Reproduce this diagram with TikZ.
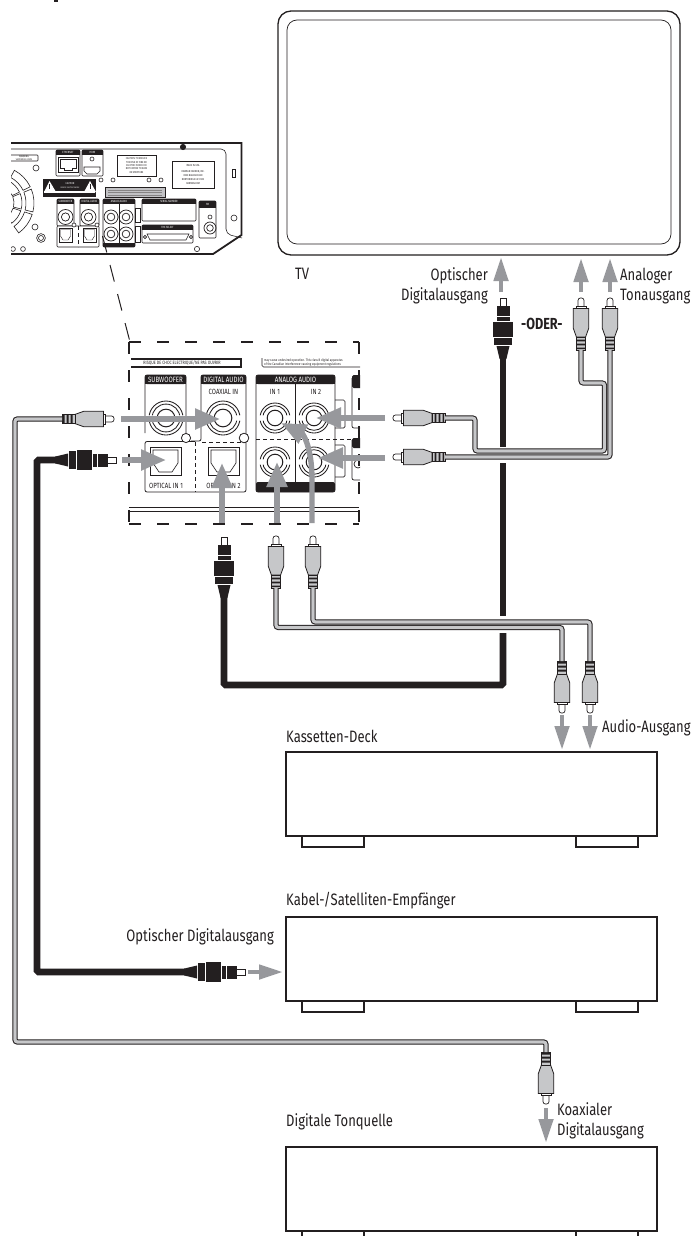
\documentclass[tikz,border=0pt]{standalone}
\usepackage{fontspec}
\usetikzlibrary{arrows.meta}
\newfontfamily\labf[FakeStretch=0.79]{Fira Sans}
\newfontfamily\smallf[FakeStretch=0.8]{Fira Sans}
\definecolor{ink}{HTML}{231F20}
\definecolor{sig}{HTML}{97989C}
\definecolor{plugfill}{HTML}{C6C7C9}
\tikzset{
  lab/.style={font=\labf\fontsize{16.5}{18}\selectfont,text=ink,inner sep=0pt,anchor=base west},
  labr/.style={lab,anchor=base east},
  devbox/.style={draw=ink,line width=1.3pt,fill=white},
  tvbox/.style={draw=ink,fill=white},
  graycable/.style={draw=ink,line width=1.05pt,double=plugfill,double distance=3.2pt,rounded corners=2.5pt},
  blackcable/.style={draw=ink,line width=6.6pt,rounded corners=1.5pt},
  sigbig/.style={draw=sig,line width=4.6pt,-{Triangle[length=24pt,width=14pt]}},
  sigpanel/.style={draw=sig,line width=5.4pt,-{Triangle[length=25pt,width=20pt]}},
  hdrtxt/.style={font=\smallf\fontsize{7.7}{8}\selectfont,text=white,inner sep=0pt},
  pantxt/.style={font=\smallf\fontsize{7.5}{8}\selectfont,text=ink,inner sep=0pt},
  rhdr/.style={font=\smallf\fontsize{3}{3}\selectfont,text=white,inner sep=0pt},
  rtxt/.style={font=\smallf\fontsize{2.8}{3.4}\selectfont,text=ink,inner sep=0pt,align=center},
  pline/.style={draw=ink,line width=.8pt},
  rline/.style={draw=ink,line width=.6pt},
  leader/.style={draw=ink,line width=1pt,dash pattern=on 17pt off 13pt},
  pdash/.style={draw=ink,line width=1.1pt,dash pattern=on 12pt off 16pt},
  idash/.style={draw=ink,line width=.7pt,dash pattern=on 4pt off 3pt},
}
% name, x, y of tip, rotation (0 = tip up)
\newcommand{\rcaplug}[4]{\begin{scope}[shift={(#2,#3)},rotate=#4]
  \draw[fill=white,line width=.7pt,draw=ink,rounded corners=2.4pt] (-3,13)--(-3,0)--(3,0)--(3,13);
  \draw[fill=white,line width=.7pt,draw=ink] (-5,8.5) rectangle (5,11);
  \draw[fill=plugfill,line width=.8pt,draw=ink] (-7.8,10.5)--(7.8,10.5)--(7.8,30)--(4.6,39)--(-4.6,39)--(-7.8,30)--cycle;
  \draw[fill=plugfill,line width=.8pt,draw=ink] (-4.6,39) rectangle (4.6,52);
  \fill[ink] (-4.6,41.5) rectangle (4.6,43.3) (-4.6,45.5) rectangle (4.6,47.3) (-4.6,49.5) rectangle (4.6,51);
  \coordinate (#1) at (0,52);
\end{scope}}
\newcommand{\optplug}[4]{\begin{scope}[shift={(#2,#3)},rotate=#4]
  \draw[fill=white,line width=.7pt,draw=ink] (-3,0) rectangle (3,9);
  \fill[ink] (-6.5,8) rectangle (6.5,18);
  \fill[ink] (-6.5,19) rectangle (6.5,23);
  \fill[ink] (-10,24) rectangle (10,39);
  \fill[ink] (-9,40) rectangle (9,47);
  \fill[ink] (-6.5,48)--(6.5,48)--(3.4,61)--(-3.4,61)--cycle;
  \coordinate (#1) at (0,60);
\end{scope}}
\newcommand{\jack}[3]{% x y outer radius
  \draw[line width=.85pt,draw=ink] (#1,#2) circle ({#3}) (#1,#2) circle ({#3*0.82});
  \fill[white] ({#1-#3-1},{#2-2.6}) rectangle ({#1-#3*0.7},{#2+2.6}) ({#1+#3*0.7},{#2-2.6}) rectangle ({#1+#3+1},{#2+2.6});
  \draw[line width=1pt,draw=ink] (#1,#2) circle ({#3*0.52});
}
\newcommand{\rjack}[3]{\draw[line width=.7pt,draw=ink] (#1,#2) circle ({#3}) (#1,#2) circle ({#3*0.55});}
\newcommand{\optport}[2]{\begin{scope}[shift={(#1,#2)}]
  \draw[pline] (0,0) rectangle (31,28);
  \draw[draw=ink,line width=.6pt] (3,3)--(28,3)--(28,16)--(22,25)--(9,25)--(3,16)--cycle;
\end{scope}}
\newcommand{\ropt}[2]{\begin{scope}[shift={(#1,#2)}]
  \draw[rline] (0,0) rectangle (13,14);
  \draw[draw=ink,line width=.4pt] (1.5,1.5)--(11.5,1.5)--(11.5,8)--(9,12)--(4,12)--(1.5,8)--cycle;
\end{scope}}
% name x1 y1 x2 y2 yheader text
\newcommand{\hdrbox}[7]{
  \draw[pline,fill=white,rounded corners=2pt] (#2,#3) rectangle (#4,#5);
  \fill[ink,rounded corners=2pt] (#2,#6)--(#2,#3)--(#4,#3)--(#4,#6)--cycle;
  \fill[ink] (#2,{#6-2}) rectangle (#4,#6);
  \node[hdrtxt] (#1) at ({(#2+#4)/2},{(#3+#6)/2}) {#7};
}
\newcommand{\hdrcap}[6]{
  \fill[ink,rounded corners=2pt] (#2,#5)--(#2,#3)--(#4,#3)--(#4,#5)--cycle;
  \fill[ink] (#2,{#5-2}) rectangle (#4,#5);
  \node[hdrtxt] (#1) at ({(#2+#4)/2},{(#3+#5)/2}) {#6};
}
\newcommand{\rbox}[7]{
  \draw[rline,fill=white,rounded corners=1pt] (#2,#3) rectangle (#4,#5);
  \fill[ink] (#2,#3) rectangle (#4,#6);
  \node[rhdr] (#1) at ({(#2+#4)/2},{(#3+#6)/2}) {#7};
}
% name x1,y1 x2,y2 style
\newcommand{\sigline}[4]{\coordinate (#1a) at (#2); \coordinate (#1b) at (#3); \draw[#4] (#1a) -- (#1b);}
\begin{document}
\begin{tikzpicture}[x=1pt,y=-1pt]
\useasboundingbox (0,0) rectangle (693,1236);
\fill[white] (0,0) rectangle (693,1236);
\fill[ink] (54,0) rectangle (57.5,2);

% TV
\draw[tvbox,line width=1.3pt,rounded corners=13pt] (278,11) rectangle (680,255);
\draw[tvbox,line width=.7pt,rounded corners=10pt] (287,20) rectangle (671,244);
\node[lab] (tvlabel) at (295,279) {TV};

% devices
\node[devbox,minimum width=371pt,minimum height=84pt,inner sep=0pt] (deck) at (471.5,794) {};
\node[devbox,minimum width=371pt,minimum height=84pt,inner sep=0pt] (sat) at (471.5,959) {};
\node[devbox,minimum width=371pt,minimum height=84pt,inner sep=0pt] (dig) at (471.5,1189) {};
\foreach \yy in {836,1001,1231}{
  \draw[devbox] (302,\yy) rectangle (364,\yy+11);
  \draw[devbox] (576,\yy) rectangle (638,\yy+11);
}
\node[lab] (decklabel) at (286,742) {Kassetten-Deck};
\node[lab] (satlabel) at (286,905) {Kabel-/Satelliten-Empfänger};
\node[lab] (diglabel) at (286,1126) {Digitale Tonquelle};

% labels
\node[labr] (l1) at (488,280) {Optischer};
\node[labr] (l2) at (488,300) {Digitalausgang};
\node[lab,font=\labf\bfseries\fontsize{16}{18}\selectfont] (oder) at (521,329) {-ODER-};
\node[lab] (l3) at (620,280) {Analoger};
\node[lab] (l4) at (620,300) {Tonausgang};
\node[lab] (l5) at (602,732) {Audio-Ausgang};
\node[labr] (l6) at (274,941) {Optischer Digitalausgang};
\node[lab] (l7) at (557,1115) {Koaxialer};
\node[lab] (l8) at (557,1135) {Digitalausgang};

% rear panel of the unit
\begin{scope}
\clip (11,135) rectangle (250,262);
\draw[draw=ink,line width=1.8pt] (0,143)--(241.5,143)--(241.5,235)--(213,254)--(0,254);
\draw[rline,rounded corners=5pt] (0,149)--(226,149)--(226,234)--(242,238);
\draw[draw=ink,line width=.8pt,fill=ink] (183,147) circle (2.6);
% fan
\begin{scope}[shift={(-3,203)}]
  \foreach \aa in {-62,-22,18}{
    \draw[rline,fill=white] (\aa:29) -- (\aa:37) arc[start angle=\aa,delta angle=36,radius=37] -- ({\aa+36}:29) arc[start angle=\aa+36,delta angle=-36,radius=29] -- cycle;
    \draw[rline] (\aa:17) -- (\aa:25) arc[start angle=\aa,delta angle=36,radius=25] -- ({\aa+36}:17) arc[start angle=\aa+36,delta angle=-36,radius=17] -- cycle;
  }
\end{scope}
\draw[rline,fill=white,rounded corners=.8pt] (8,155) rectangle (38,161);
\node[rtxt] (rlab) at (24,158) {WARNING\\ ventilation slots};
\foreach \cx/\cy/\cr in {36/168/3,101/180/2,113/180/2,149/180/2,161/180/2,35/227/3,234/218/3,197/249/2.6,13/249/2.4,23/249/2.4,92/159/2}{
  \draw[rline,fill=white] (\cx,\cy) circle (\cr);
}
% network
\rbox{rlan}{56}{150}{80}{176}{155}{ETHERNET}
\draw[rline] (58,157) rectangle (78,172);
\draw[rline] (60,159)--(76,159)--(76,168)--(72,168)--(72,170.5)--(64,170.5)--(64,168)--(60,168)--cycle;
\rbox{rhdmi}{82}{150}{103}{176}{155}{HDMI}
\draw[rline] (92,159) circle (2);
\draw[rline] (84,167)--(100,167)--(100,171)--(97,174)--(87,174)--(84,171)--cycle;
% labels
\draw[draw=ink,line width=1pt,fill=white] (117.5,155) rectangle (156,176);
\node[rtxt] (rwarn) at (136.5,165.5) {CAUTION: TO REDUCE\\ THE RISK OF FIRE OR\\ ELECTRIC SHOCK DO\\ NOT EXPOSE TO RAIN\\ OR MOISTURE};
\draw[rline,fill=white] (172,161) rectangle (214,188);
\node[rtxt] (rmod) at (193,174.5) {MADE IN USA\\[3pt] HARMAN CARDON, INC.\\[1pt] 8500 BALBOA BLVD\\ NORTHRIDGE CA 91329\\[1pt] HARMAN.COM};
\fill[ink] (43,179) rectangle (96,197);
\fill[white] (44,190.5) rectangle (95,193);
\fill[white] (49.5,181)--(56,192)--(44,192)--cycle (90,181)--(96,192)--(84,192)--cycle;
\draw[ink,line width=.7pt] (49.8,184)--(49.8,189) (90,184)--(90,189);
\node[rtxt,text=white] (rcau) at (70,184) {CAUTION};
\node[rtxt,text=white,font=\smallf\fontsize{2.1}{2.5}\selectfont] (rcau2) at (70,188) {RISK OF ELECTRIC SHOCK};
\fill[sig!60] (105,187) rectangle (165,197);
\draw[draw=ink,line width=.3pt] (105,187) rectangle (165,197);
\foreach \yy in {190,192.5,195}{\draw[draw=ink!55,line width=.6pt] (108,\yy)--(162,\yy);}
% sockets
\rbox{rsub}{57}{199}{74}{226}{203.5}{SUBWOOFER}
\rjack{65.5}{217}{7.5}
\rbox{rdig}{80}{199}{99}{226}{203.5}{DIGITAL AUDIO}
\rjack{88.5}{217}{7.5}
\draw[rline,fill=white,rounded corners=1pt] (57,226) rectangle (99,247);
\draw[idash,line width=.5pt] (78,226)--(78,247);
\ropt{59}{228}\ropt{83}{228}
\draw[rline,fill=white] (74,225) circle (2) (97,225) circle (2);
\rbox{rana}{103}{199}{135}{247}{203.5}{ANALOG AUDIO}
\fill[ink] (103,243) rectangle (135,247);
\draw[rline] (119,204)--(119,243);
\rjack{111}{217}{7}\rjack{126}{217}{7}\rjack{111}{234}{7}\rjack{126}{234}{7}
\draw[rline] (135,208) rectangle (140,222) (135,226) rectangle (140,242);
\rbox{rser}{142}{199}{196}{221}{203.5}{SERIAL NUMBER}
\rbox{rsel}{142}{225}{193}{243}{229.5}{THX SELECT}
\draw[rline] (147,234)--(189,234)--(186,240)--(150,240)--cycle;
\draw[rline,fill=white] (145,237) circle (1.6) (191,237) circle (1.6);
\rbox{rfm}{199}{201}{216}{238}{208}{FM}
\rjack{210}{228}{6}
\draw[rline] (210,217) circle (2);
\draw[rline] (232.5,169) rectangle (235.5,177);
\draw[rline] (41,238) circle (4.4) (41,238) circle (2.5);
\end{scope}
% leader from unit to enlargement
\coordinate (leadera) at (102.5,236);
\coordinate (leaderb) at (130,342);
\draw[leader] (leadera)--(leaderb);

% enlarged panel
\coordinate (pnw) at (129,342); \coordinate (pne) at (359,342);
\coordinate (psw) at (129,524); \coordinate (pse) at (359,524);
\begin{scope}
\clip (125,338) rectangle (360,528);
\draw[draw=ink,line width=.8pt] (129,507.5)--(359,507.5) (129,511)--(359,511);
\draw[draw=ink,line width=1.1pt,fill=white] (131,359)--(241,359)--(241,367)--(131,367);
\draw[draw=ink,line width=1.7pt] (241,358.5)--(241,367.5)--(131,367.5);
\node[pantxt,font=\smallf\fontsize{4.7}{5}\selectfont] (risque) at (182,362.5) {RISQUE DE CHOC ELECTRIQUE/NE PAS OUVRIR};
\draw[draw=ink,line width=.7pt,rounded corners=1.5pt] (262,358)--(262,367)--(362,367);
\node[pantxt,font=\smallf\fontsize{3.5}{4}\selectfont,anchor=north west,align=left] (fcc) at (264,358.5) {may cause undesired operation. This class B digital apparatus\\ of the Canadian Interference-causing equipment regulations};

% subwoofer + digital audio
\draw[pline,rounded corners=2pt] (145,433)--(145,375)--(186,375)--(186,433);
\hdrcap{hsub}{145}{375}{186}{384}{SUBWOOFER}
\jack{166}{418}{17}
\draw[pline,rounded corners=2pt] (191,441)--(201,441)--(201,375)--(246,375)--(246,492)--(145,492)--(145,441.5)--(195,441.5);
\hdrcap{hdig}{201}{375}{246}{384}{DIGITAL AUDIO}
\node[pantxt] (coax) at (223.5,392) {COAXIAL IN};
\jack{223}{418}{17}
\draw[idash,line width=.9pt] (202,442)--(246,442);
\draw[idash,line width=.9pt] (195,442)--(195,492);
\draw[pline,fill=white] (186,438) circle (4.6) (244,438) circle (4.8);
\optport{150}{447}\optport{208}{447}
\node[pantxt] (opt1) at (166,486) {OPTICAL IN 1};
\node[pantxt] (opt2) at (223.5,486) {OPTICAL IN 2};

% analog audio
\hdrbox{hana}{256}{375}{335}{492}{384}{ANALOG AUDIO}
\fill[ink,rounded corners=2pt] (256,482)--(256,492)--(335,492)--(335,482)--cycle;
\draw[pline] (295,384)--(295,482);
\node[pantxt] (in1) at (275,391.5) {IN 1};
\node[pantxt] (in2) at (316,391.5) {IN 2};
\jack{275}{418}{15}\jack{314}{418}{15}\jack{275}{462}{15}\jack{314}{462}{15}
\draw[idash,line width=.9pt] (256,439)--(359,439);
\draw[draw=ink,line width=.7pt,rounded corners=1.5pt] (335,400)--(345,400)--(345,428)--(335,428);
\draw[draw=ink,line width=.7pt,rounded corners=1.5pt] (335,445)--(345,445)--(345,477)--(335,477);
% right-hand cut off sections
\draw[draw=ink,line width=.7pt,rounded corners=2pt] (352,378)--(352,428)--(362,428);
\fill[ink,rounded corners=1.5pt] (352,388)--(352,375)--(362,375)--(362,388)--cycle;
\draw[draw=ink,line width=.7pt,rounded corners=2pt] (352,440)--(352,480)--(362,480);
\fill[ink,rounded corners=1.5pt] (352,448)--(352,438)--(362,438)--(362,448)--cycle;
\draw[draw=ink,line width=.7pt] (358,464) circle (4);
\end{scope}
\draw[pdash] (pnw)--(pne);
\draw[pdash] (psw)--(pse);
\draw[pdash] (pnw)--(psw);
\draw[pdash] (pne)--(pse);

% black cables (interrupted where the grey ones pass)
\coordinate (b1) at (503,447);
\coordinate (b2) at (503,463);
\coordinate (b3) at (503,616);
\coordinate (b4) at (503,633);
\coordinate (b5) at (503,685);
\coordinate (b6) at (224,685);
\coordinate (b7) at (37,460);
\coordinate (b8) at (37,972);
\optplug{plugtv}{503}{298}{0}
\optplug{plugin}{224}{537}{0}
\optplug{plugl}{116}{460}{-90}
\optplug{plugsat}{245}{972}{-90}
\draw[blackcable] (plugtv)--(b1);
\draw[draw=ink,line width=6.6pt] (b2)--(b3);
\draw[blackcable] (b4)--(b5)--(b6)--(plugin);
\draw[blackcable] (plugl)--(b7)--(b8)--(plugsat);

% grey plugs and cables
\rcaplug{pa}{581}{298}{0}
\rcaplug{pb}{610}{298}{0}
\rcaplug{pc}{393}{418}{90}
\rcaplug{pd}{393}{457}{90}
\rcaplug{pe}{276}{536}{0}
\rcaplug{pf}{313}{536}{0}
\rcaplug{pg}{562}{713}{180}
\rcaplug{ph}{590}{713}{180}
\rcaplug{pi}{114}{419}{-90}
\rcaplug{pj}{546}{1104}{180}
\draw[graycable] (pc)--(475,418)--(475,451)--(604.5,451)--(604.5,383)--(581,383)--(pa);
\draw[graycable] (pd)--(610,457)--(pb);
\draw[graycable] (pf)--(313,622)--(590,622)--(ph);
\draw[graycable] (pe)--(276,627.5)--(562,627.5)--(pg);
\draw[graycable] (pi)--(15,419)--(15,1042)--(546,1042)--(pj);

% signal arrows
\sigline{s1}{501,292}{501,257}{sigbig}
\sigline{s2}{581,292}{581,258}{sigbig}
\sigline{s3}{610,292}{610,258}{sigbig}
\sigline{s4}{562,715}{562,750}{sigbig}
\sigline{s5}{590,715}{590,750}{sigbig}
\sigline{s6}{248,972}{283,972}{sigbig}
\sigline{s7}{546,1108}{546,1143}{sigbig}
\sigline{s8}{121,419}{220,419}{sigpanel}
\sigline{s9}{122,460}{166,460}{sigpanel}
\sigline{s10}{222,523}{222,463}{sigpanel}
\sigline{s11}{277,523}{277,462}{sigpanel}
\sigline{s12}{385,418}{316,418}{sigpanel}
\sigline{s13}{385,458}{318,458}{sigpanel}
\coordinate (s14a) at (312,523);
\coordinate (s14b) at (281,423);
\draw[sigpanel] (s14a)--(312,480) .. controls (312,447) and (303,434) .. (s14b);
\end{tikzpicture}
\end{document}
